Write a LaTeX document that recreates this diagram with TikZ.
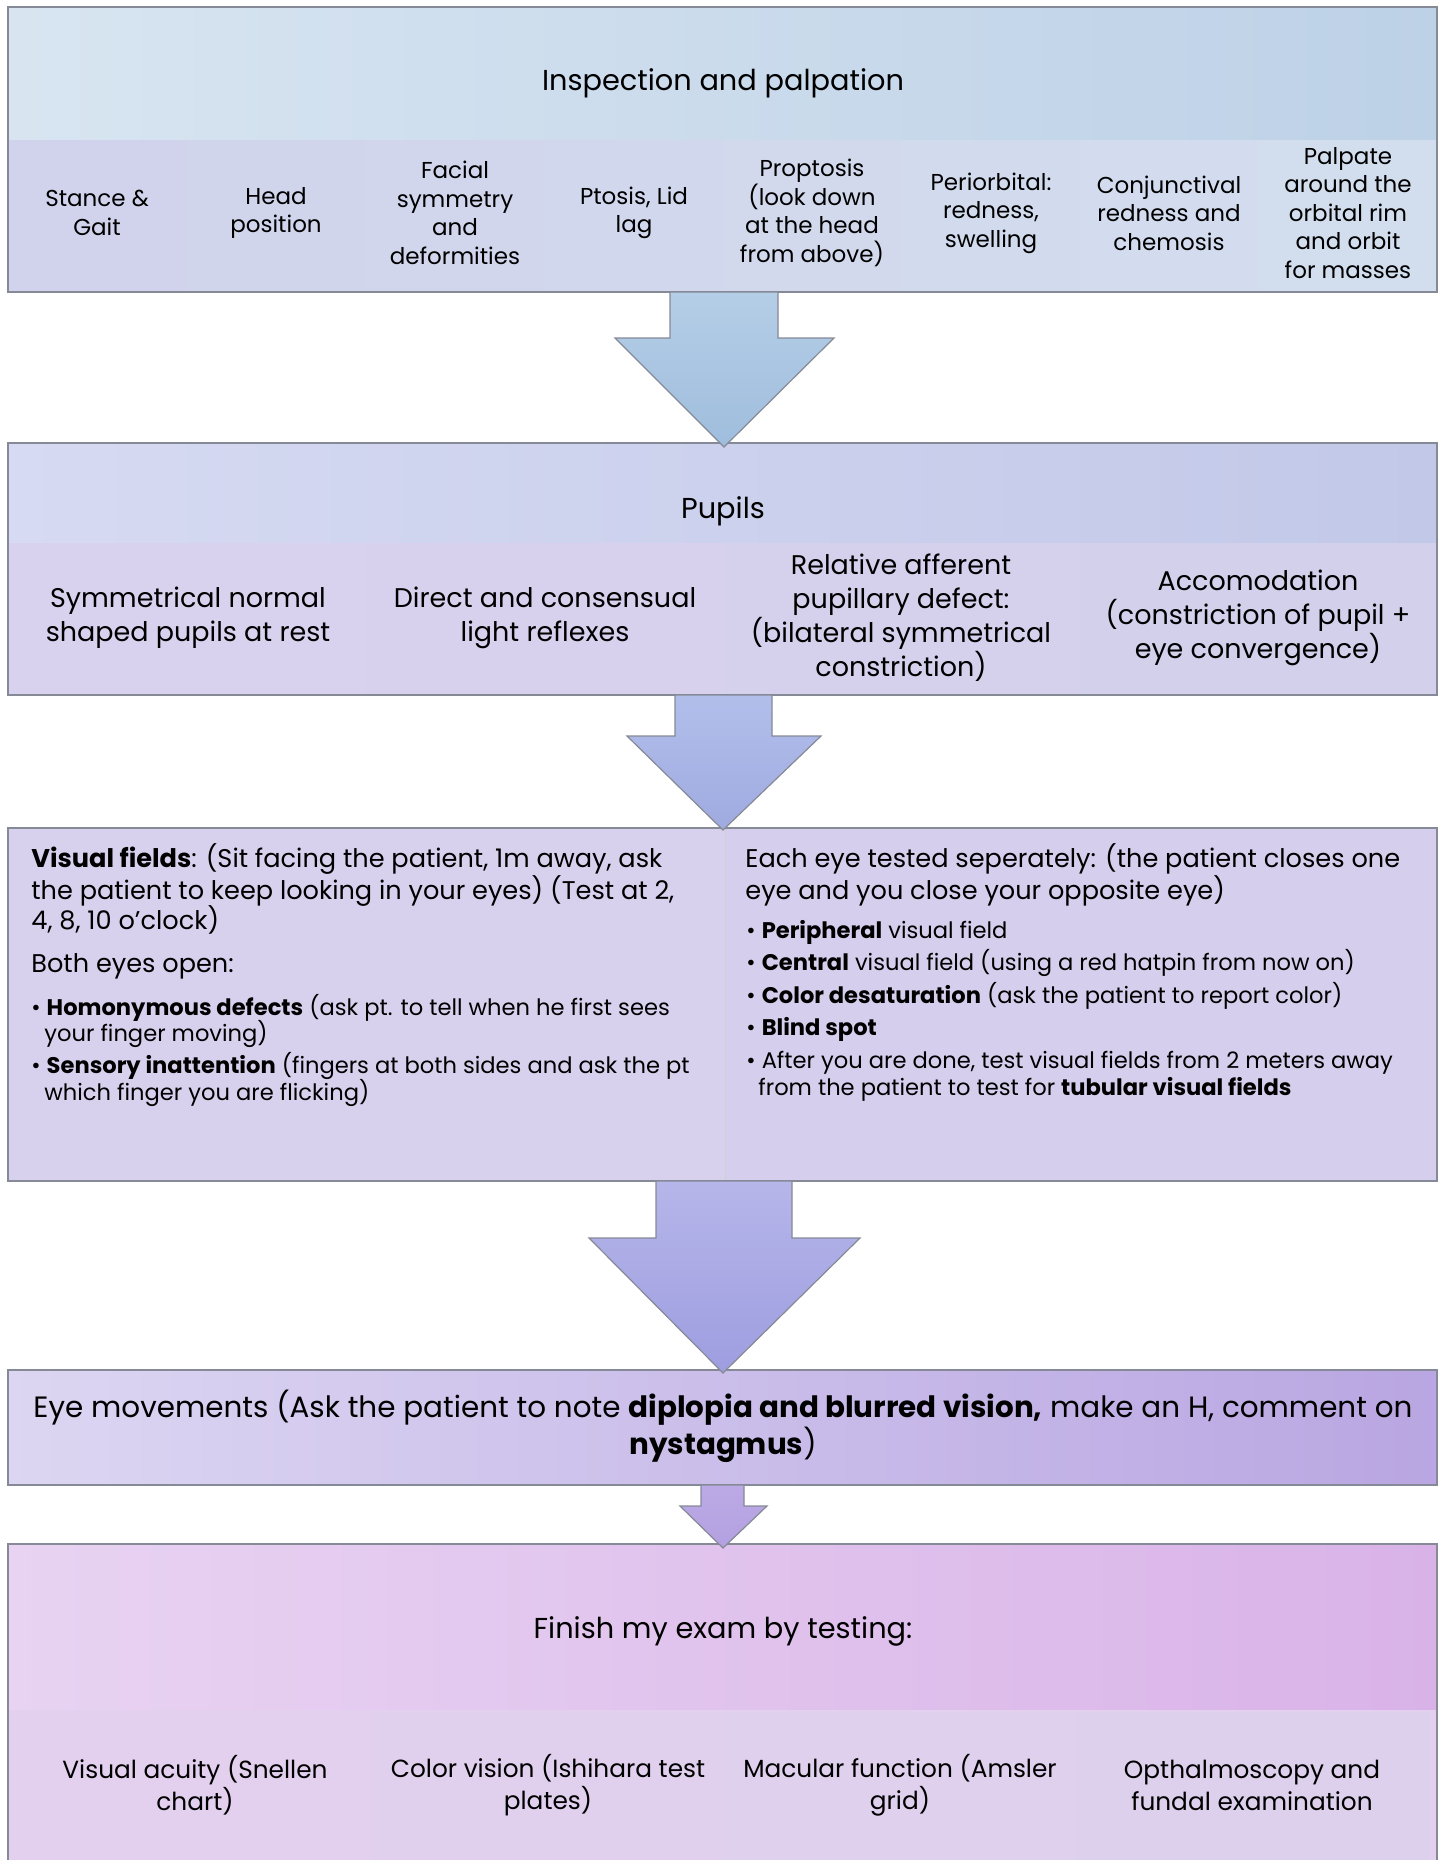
\documentclass[tikz,border=0pt]{standalone}
\usepackage{fontspec}
\setmainfont{Poppins}
\definecolor{bhl}{HTML}{D8E5F1}
\definecolor{bhr}{HTML}{BDD1E7}
\definecolor{bcl}{HTML}{D1D3EC}
\definecolor{bcr}{HTML}{D2DEEE}
\definecolor{phl}{HTML}{D6DAF2}
\definecolor{phr}{HTML}{C2C8E8}
\definecolor{pcl}{HTML}{D9D2EE}
\definecolor{pcr}{HTML}{D3D0EC}
\definecolor{vfl}{HTML}{D8D1EE}
\definecolor{vfr}{HTML}{D5CEEC}
\definecolor{eml}{HTML}{DCD6F2}
\definecolor{emr}{HTML}{B9A6E2}
\definecolor{fhl}{HTML}{E8D3F2}
\definecolor{fhr}{HTML}{D9B3E8}
\definecolor{fcl}{HTML}{E2D0EE}
\definecolor{fcr}{HTML}{DDD0EC}
\definecolor{aAt}{HTML}{B5CEE7}
\definecolor{aAb}{HTML}{9FBDDD}
\definecolor{aBt}{HTML}{B2BEEA}
\definecolor{aBb}{HTML}{9FABE0}
\definecolor{aCt}{HTML}{B6B6EA}
\definecolor{aCb}{HTML}{9E9DE0}
\definecolor{aDt}{HTML}{BCAAE6}
\definecolor{aDb}{HTML}{B3A0E0}
\definecolor{edge}{HTML}{858A96}
\begin{document}
\begin{tikzpicture}[x=0.5pt,y=-0.5pt,
  boxline/.style={draw=edge, line width=0.8pt},
  blockarrow/.style={draw=edge, line width=0.6pt},
  title/.style={font=\fontsize{14.4}{17}\selectfont, inner sep=0pt, align=center},
  cellA/.style={font=\fontsize{11.5}{14.25}\selectfont, inner sep=0pt, align=center},
  cellB/.style={font=\fontsize{13.5}{17}\selectfont, inner sep=0pt, align=center},
  emtext/.style={font=\fontsize{14.7}{16.5}\selectfont, inner sep=0pt, align=center},
  cellF/.style={font=\fontsize{12.4}{16}\selectfont, inner sep=0pt, align=center},
  mainline/.style={font=\fontsize{12.8}{15}\selectfont, inner sep=0pt, anchor=base west},
  bulline/.style={font=\fontsize{11.3}{13}\selectfont, inner sep=0pt, anchor=base west}]
\useasboundingbox (0,0) rectangle (1442,1860);
\clip (0,0) rectangle (1442,1860);

% ---------- Box 1: Inspection and palpation
\shade[left color=bhl, right color=bhr] (8,7) rectangle (1437,140);
\foreach \i in {0,...,7}{
  \pgfmathtruncatemacro{\mix}{100-\i*14}
  \fill[bcl!\mix!bcr] ({8+\i*178.625},140) rectangle ({8+(\i+1)*178.625},292);
}
\draw[boxline] (8,7) rectangle (1437,292);
\node[title] (t1) at (723,83) {Inspection and palpation};
\node[cellA] (c11) at (97,213) {Stance \&\\Gait};
\node[cellA] (c12) at (276,213) {Head\\position};
\node[cellA] (c13) at (455,213) {Facial\\symmetry\\and\\deformities};
\node[cellA] (c14) at (634,213) {Ptosis, Lid\\lag};
\node[cellA] (c15) at (812,213) {Proptosis\\(look down\\at the head\\from above)};
\node[cellA] (c16) at (991,213) {Periorbital:\\redness,\\swelling};
\node[cellA] (c17) at (1169,213) {Conjunctival\\redness and\\chemosis};
\node[cellA] (c18) at (1348,213) {Palpate\\around the\\orbital rim\\and orbit\\for masses};

% ---------- Box 2: Pupils
\shade[left color=phl, right color=phr] (8,443) rectangle (1437,543);
\foreach \i in {0,...,3}{
  \pgfmathtruncatemacro{\mix}{100-\i*33}
  \fill[pcl!\mix!pcr] ({8+\i*357.25},543) rectangle ({8+(\i+1)*357.25},695);
}
\draw[boxline] (8,443) rectangle (1437,695);
\node[title] (t2) at (723,511) {Pupils};
\node[cellB] (c21) at (188,618) {Symmetrical normal\\shaped pupils at rest};
\node[cellB] (c22) at (545,618) {Direct and consensual\\light reflexes};
\node[cellB] (c23) at (901,618) {Relative afferent\\pupillary defect:\\(bilateral symmetrical\\constriction)};
\node[cellB] (c24) at (1258,618) {Accomodation\\(constriction of pupil +\\eye convergence)};

% ---------- Box 3: Visual fields
\fill[vfl] (8,828) rectangle (725,1181);
\fill[vfr] (725,828) rectangle (1437,1181);
\draw[edge!40, line width=0.4pt] (725,828) -- (725,1181);
\draw[boxline] (8,828) rectangle (1437,1181);
\node[mainline] (v1) at (31,867) {\textbf{Visual fields}: (Sit facing the patient, 1m away, ask};
\node[mainline] (v2) at (31,899) {the patient to keep looking in your eyes) (Test at 2,};
\node[mainline] (v3) at (31,929) {4, 8, 10 o'clock)};
\node[mainline] (v4) at (31,972) {Both eyes open:};
\node[bulline] (v5) at (31,1015) {• \textbf{Homonymous defects} (ask pt. to tell when he first sees};
\node[bulline] (v6) at (44,1041) {your finger moving)};
\node[bulline] (v7) at (31,1073) {• \textbf{Sensory inattention} (fingers at both sides and ask the pt};
\node[bulline] (v8) at (44,1100) {which finger you are flicking)};
\node[mainline] (w1) at (745,867) {Each eye tested seperately: (the patient closes one};
\node[mainline] (w2) at (745,899) {eye and you close your opposite eye)};
\node[bulline] (w3) at (746,938) {• \textbf{Peripheral} visual field};
\node[bulline] (w4) at (746,970) {• \textbf{Central} visual field (using a red hatpin from now on)};
\node[bulline] (w5) at (746,1003) {• \textbf{Color desaturation} (ask the patient to report color)};
\node[bulline] (w6) at (746,1035) {• \textbf{Blind spot}};
\node[bulline] (w7) at (746,1068) {• After you are done, test visual fields from 2 meters away};
\node[bulline] (w8) at (758,1095) {from the patient to test for \textbf{tubular visual fields}};

% ---------- Box 4: Eye movements
\shade[left color=eml, right color=emr] (8,1370) rectangle (1437,1485);
\draw[boxline] (8,1370) rectangle (1437,1485);
\node[emtext] (em) at (723,1426) {Eye movements (Ask the patient to note \textbf{diplopia and blurred vision,} make an H, comment on\\\textbf{nystagmus})};

% ---------- Box 5: Finish
\shade[left color=fhl, right color=fhr] (8,1544) rectangle (1437,1710);
\fill[fcl] (8,1710) rectangle (1437,1880);
\foreach \i in {0,...,3}{
  \pgfmathtruncatemacro{\mix}{100-\i*33}
  \fill[fcl!\mix!fcr] ({18+\i*353},1712) rectangle ({18+(\i+1)*353},1880);
}
\draw[boxline] (8,1880) -- (8,1544) -- (1437,1544) -- (1437,1880);
\node[title] (t5) at (723,1631) {Finish my exam by testing:};
\node[cellF] (c51) at (195,1785) {Visual acuity (Snellen\\chart)};
\node[cellF] (c52) at (548,1785) {Color vision (Ishihara test\\plates)};
\node[cellF] (c53) at (900,1785) {Macular function (Amsler\\grid)};
\node[cellF] (c54) at (1252,1785) {Opthalmoscopy and\\fundal examination};

% ---------- Block arrows
\shadedraw[blockarrow, top color=aAt, bottom color=aAb]
  (670,292) -- (778,292) -- (778,338) -- (834,338) -- (724,447) -- (615,338) -- (670,338) -- cycle;
\shadedraw[blockarrow, top color=aBt, bottom color=aBb]
  (675,695) -- (772,695) -- (772,736) -- (821,736) -- (723,830) -- (627,736) -- (675,736) -- cycle;
\shadedraw[blockarrow, top color=aCt, bottom color=aCb]
  (656,1181) -- (792,1181) -- (792,1238) -- (860,1238) -- (723,1373) -- (589,1238) -- (656,1238) -- cycle;
\shadedraw[blockarrow, top color=aDt, bottom color=aDb]
  (701,1485) -- (744,1485) -- (744,1506) -- (767,1506) -- (723,1548) -- (680,1506) -- (701,1506) -- cycle;
\end{tikzpicture}
\end{document}
